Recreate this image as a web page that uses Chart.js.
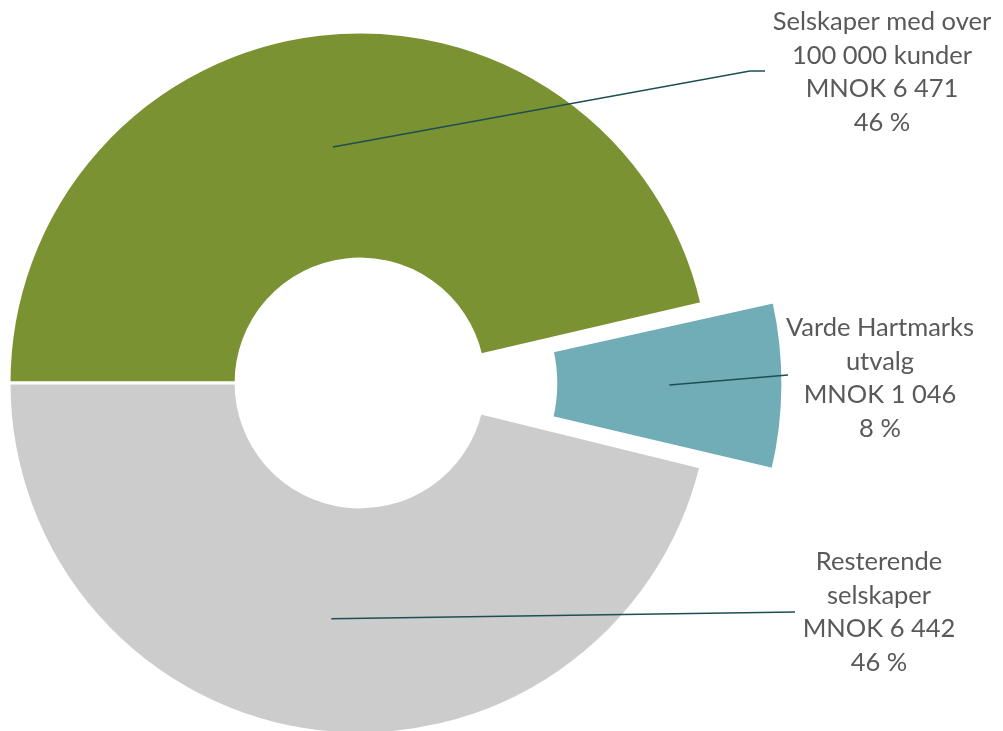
<!DOCTYPE html>
<html>
<head>
<meta charset="utf-8">
<script src="https://cdn.jsdelivr.net/npm/chart.js@4.4.1/dist/chart.umd.min.js"></script>
<style>
  html, body { margin: 0; padding: 0; background: #ffffff; }
  #wrap { width: 1003px; height: 731px; position: relative; }
</style>
</head>
<body>
<div id="wrap"><canvas id="grafico" width="1003" height="731"></canvas></div>
<script>
// dati del grafico
const categorie = [
  ['Selskaper med over', '100 000 kunder'],
  ['Varde Hartmarks', 'utvalg'],
  ['Resterende', 'selskaper']
];
const valori = [6471, 1046, 6442]; // MNOK
const percentuali = ['46 %', '8 %', '46 %']; // come scritto nel grafico
const colori = ['#7a9232', '#70adb7', '#cccccc'];
const spostamenti = [0, 186, 0]; // fetta staccata (Chart.js ne usa circa 1/4 + allarga il raggio)

// dove vanno le etichette (centro testo, prima riga) e fine della linea
const posEtichette = [
  { x: 882, y: 22, linea: [[750, 71], [765, 71]] },
  { x: 880, y: 328, linea: [[788, 375]] },
  { x: 879, y: 562, linea: [[795, 612]] }
];

function formatta(n) {
  return String(n).replace(/\B(?=(\d{3})+(?!\d))/g, ' ');
}

var etichettePlugin = {
  id: 'etichette',
  afterDatasetsDraw: function(chart) {
    var ctx = chart.ctx;
    var meta = chart.getDatasetMeta(0);
    ctx.save();
    for (var i = 0; i < meta.data.length; i++) {
      var arc = meta.data[i];
      var p = arc.getProps(['x', 'y', 'startAngle', 'endAngle', 'innerRadius', 'outerRadius', 'circumference'], true);
      var ang = (p.startAngle + p.endAngle) / 2;
      // stesso calcolo dell'offset che fa ArcElement.draw
      var off = (arc.options.offset || 0) / 4;
      var fix = 1 - Math.sin(Math.min(Math.PI, p.circumference || 0));
      var r = off + off * fix + (p.innerRadius + p.outerRadius) / 2;
      var sx = p.x + Math.cos(ang) * r;
      var sy = p.y + Math.sin(ang) * r;
      // linea guida
      ctx.strokeStyle = '#1f4e50';
      ctx.lineWidth = 1.5;
      ctx.beginPath();
      ctx.moveTo(sx, sy);
      var pts = posEtichette[i].linea;
      for (var k = 0; k < pts.length; k++) ctx.lineTo(pts[k][0], pts[k][1]);
      ctx.stroke();
      // testo
      var righe = categorie[i].concat(['MNOK ' + formatta(valori[i]), percentuali[i]]);
      ctx.fillStyle = '#595959';
      ctx.font = '25.5px Lato';
      ctx.textAlign = 'center';
      ctx.textBaseline = 'middle';
      for (var j = 0; j < righe.length; j++) {
        ctx.fillText(righe[j], posEtichette[i].x, posEtichette[i].y + j * 33.5);
      }
    }
    ctx.restore();
  }
};

var chart = new Chart(document.getElementById('grafico'), {
  type: 'doughnut',
  data: {
    labels: categorie.map(function(c) { return c.join(' '); }),
    datasets: [{
      data: valori,
      backgroundColor: colori,
      borderColor: '#ffffff',
      borderWidth: 3,
      offset: spostamenti,
      hoverOffset: 0,
      clip: false
    }]
  },
  options: {
    responsive: false,
    animation: false,
    rotation: -90,
    radius: 351,
    cutout: '35.3%',
    layout: { padding: { left: 0, right: 283, top: 35, bottom: 0 } },
    plugins: {
      legend: { display: false },
      tooltip: { enabled: false }
    },
    events: []
  },
  plugins: [etichettePlugin]
});
</script>
</body>
</html>
